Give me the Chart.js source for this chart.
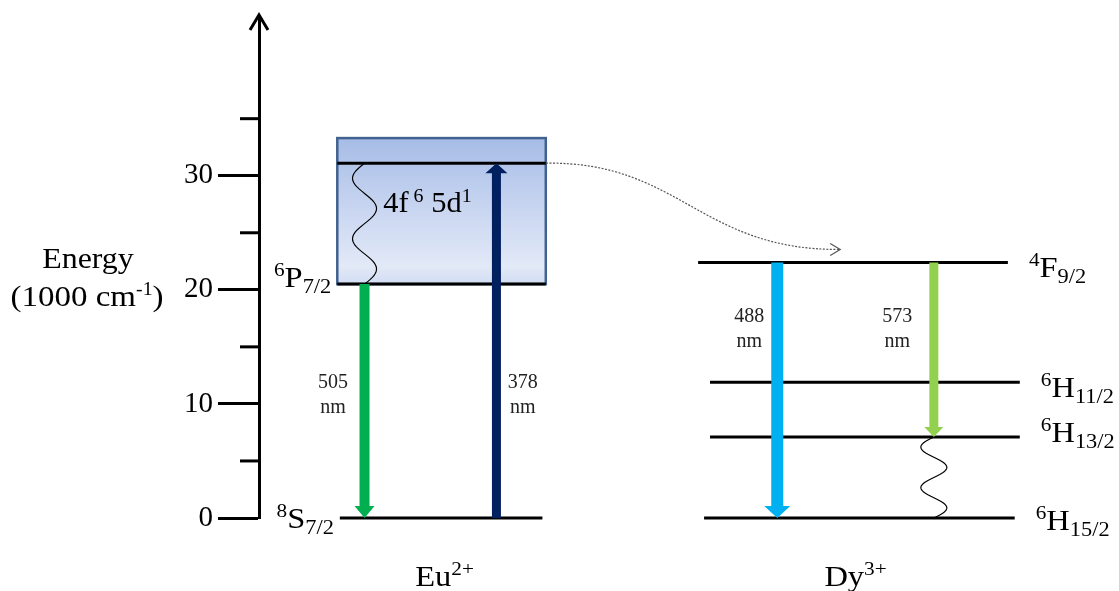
<!DOCTYPE html>
<html>
<head>
<meta charset="utf-8">
<script src="https://cdn.jsdelivr.net/npm/chart.js@4.4.0/dist/chart.umd.min.js"></script>
<style>
  html, body { margin: 0; padding: 0; background: #fff; }
</style>
</head>
<body>
<canvas id="chart" width="1119" height="591"></canvas>
<script>
// energies in 1000 cm-1
const yTicks = [0, 10, 20, 30];
const yMinorTicks = [5, 15, 25, 35];

const euLevelNames = [['8', 'S', '7/2'], ['6', 'P', '7/2']];
const euLevelEnergies = [0, 20.5];
const euBandTop = 33.3;     // top edge of the 4f6 5d1 box
const euBandLevel = 31.1;   // black line inside the box

const dyLevelNames = [['4', 'F', '9/2'], ['6', 'H', '11/2'], ['6', 'H', '13/2'], ['6', 'H', '15/2']];
const dyLevelEnergies = [22.4, 11.9, 7.1, 0];

const transitionNm = ['505', '378', '488', '573'];
const transitionFrom = [20.5, 0, 22.4, 22.4];
const transitionTo = [0, 31.1, 0, 7.1];
const transitionColors = ['#00b050', '#002060', '#00b0f0', '#92d050'];

// layout: x in diagram units 0..100, y offsets in px
const euSpans = [[9.5, 33.3], [9.2, 33.7]];
const euBoxSpan = [9.2, 33.7];
const dySpans = [[51.6, 88.0], [53.0, 89.4], [53.0, 89.4], [52.3, 88.8]];
const euLabelDrop = [10, 3];
const dyLabelDrop = [15, 15, 5, 12];
const transitionX = [12.4, 27.9, 60.9, 79.3];
const transitionShaft = [10, 9, 12, 9];
const transitionHead = [20, 22, 26, 19];
const transitionHeadLen = [12, 10, 12, 10];
const transitionLabelX = [8.7, 31.0, 57.6, 75.0];
const transitionLabelY = [11.4, 11.4, 17.2, 17.2];

const FONT = '"Liberation Serif", "Times New Roman", serif';
const SX = 1.12;

function drawRich(ctx, parts, x, y, align, sx) {
  sx = sx || 1;
  let w = 0;
  parts.forEach(p => { ctx.font = p[1] + 'px ' + FONT; w += ctx.measureText(p[0]).width; });
  let x0 = align === 'right' ? x - w * sx : align === 'center' ? x - w * sx / 2 : x;
  ctx.save();
  ctx.translate(x0, y);
  ctx.scale(sx, 1);
  ctx.textAlign = 'left';
  ctx.textBaseline = 'alphabetic';
  ctx.fillStyle = '#000';
  let cx = 0;
  parts.forEach(p => {
    ctx.font = p[1] + 'px ' + FONT;
    ctx.fillText(p[0], cx, -p[2]);
    cx += ctx.measureText(p[0]).width;
  });
  ctx.restore();
}

function levelParts(n) {
  return [[n[0], 19, 11], [n[1], 29, 0], [n[2], 20, -6]];
}

function drawArrow(ctx, x, y0, y1, shaft, head, headLen, color) {
  const dir = Math.sign(y1 - y0);
  const yb = y1 - dir * headLen;
  ctx.fillStyle = color;
  ctx.beginPath();
  ctx.moveTo(x - shaft / 2, y0);
  ctx.lineTo(x - shaft / 2, yb);
  ctx.lineTo(x - head / 2, yb);
  ctx.lineTo(x, y1);
  ctx.lineTo(x + head / 2, yb);
  ctx.lineTo(x + shaft / 2, yb);
  ctx.lineTo(x + shaft / 2, y0);
  ctx.closePath();
  ctx.fill();
}

function drawWavy(ctx, x, yTop, yBot, amp) {
  ctx.strokeStyle = '#000';
  ctx.lineWidth = 1.2;
  ctx.beginPath();
  for (let i = 0; i <= 80; i++) {
    const t = i / 80;
    const px = x - amp * Math.sin(Math.PI * 4 * t);
    const py = yTop + (yBot - yTop) * t;
    if (i === 0) ctx.moveTo(px, py); else ctx.lineTo(px, py);
  }
  ctx.stroke();
}

const datasets = [];
euLevelEnergies.forEach((e, i) => {
  datasets.push({ data: [{ x: euSpans[i][0], y: e }, { x: euSpans[i][1], y: e }] });
});
datasets.push({ data: [{ x: euBoxSpan[0], y: euBandLevel }, { x: euBoxSpan[1], y: euBandLevel }] });
dyLevelEnergies.forEach((e, i) => {
  datasets.push({ data: [{ x: dySpans[i][0], y: e }, { x: dySpans[i][1], y: e }] });
});
datasets.forEach(d => {
  d.type = 'line';
  d.borderColor = '#000';
  d.borderWidth = 3;
  d.pointRadius = 0;
  d.clip = false;
  d.borderCapStyle = 'butt';
});

const diagram = {
  id: 'diagram',
  beforeDatasetsDraw(chart) {
    const ctx = chart.ctx, xs = chart.scales.x, ys = chart.scales.y;
    const l = xs.getPixelForValue(euBoxSpan[0]), r = xs.getPixelForValue(euBoxSpan[1]);
    const t = ys.getPixelForValue(euBandTop), b = ys.getPixelForValue(euLevelEnergies[1]);
    const g = ctx.createLinearGradient(0, t, 0, b);
    g.addColorStop(0, '#a6bce6');
    g.addColorStop(0.55, '#cdd9f2');
    g.addColorStop(0.88, '#e2e9f7');
    g.addColorStop(1, '#d2ddf3');
    ctx.save();
    ctx.fillStyle = g;
    ctx.fillRect(l, t, r - l, b - t);
    ctx.strokeStyle = '#41618f';
    ctx.lineWidth = 2.5;
    ctx.strokeRect(l, t, r - l, b - t);
    ctx.restore();
  },
  afterDatasetsDraw(chart) {
    const ctx = chart.ctx, xs = chart.scales.x, ys = chart.scales.y;
    const area = chart.chartArea;
    ctx.save();
    // axis arrow head and minor ticks
    ctx.strokeStyle = '#000';
    ctx.lineWidth = 3;
    ctx.beginPath();
    ctx.moveTo(area.left - 9, area.top + 14);
    ctx.lineTo(area.left, area.top - 1);
    ctx.lineTo(area.left + 9, area.top + 14);
    ctx.stroke();
    yMinorTicks.forEach(v => {
      const y = ys.getPixelForValue(v);
      ctx.beginPath();
      ctx.moveTo(area.left - 19, y);
      ctx.lineTo(area.left, y);
      ctx.stroke();
    });

    // wavy non-radiative relaxations
    drawWavy(ctx, xs.getPixelForValue(transitionX[0]), ys.getPixelForValue(euBandLevel), ys.getPixelForValue(euLevelEnergies[1]), 12);
    drawWavy(ctx, xs.getPixelForValue(transitionX[3]), ys.getPixelForValue(dyLevelEnergies[2]), ys.getPixelForValue(dyLevelEnergies[3]), 13);

    // transitions
    transitionNm.forEach((nm, i) => {
      const x = xs.getPixelForValue(transitionX[i]);
      drawArrow(ctx, x, ys.getPixelForValue(transitionFrom[i]), ys.getPixelForValue(transitionTo[i]),
        transitionShaft[i], transitionHead[i], transitionHeadLen[i], transitionColors[i]);
      const lx = xs.getPixelForValue(transitionLabelX[i]);
      const ly = ys.getPixelForValue(transitionLabelY[i]);
      ctx.fillStyle = '#222';
      ctx.font = '20px ' + FONT;
      ctx.textAlign = 'center';
      ctx.textBaseline = 'alphabetic';
      ctx.fillText(nm, lx, ly);
      ctx.fillText('nm', lx, ly + 25);
    });

    // energy transfer Eu -> Dy
    const sx0 = xs.getPixelForValue(euBoxSpan[1]), sy0 = ys.getPixelForValue(euBandLevel);
    const ex = xs.getPixelForValue(68.3), ey = ys.getPixelForValue(dyLevelEnergies[0]) - 13;
    ctx.strokeStyle = '#555';
    ctx.lineWidth = 1.2;
    ctx.setLineDash([2, 1.5]);
    ctx.beginPath();
    ctx.moveTo(sx0, sy0);
    ctx.bezierCurveTo(sx0 + 134, sy0 - 2, sx0 + 154, ey + 1, ex, ey);
    ctx.stroke();
    ctx.setLineDash([]);
    ctx.beginPath();
    ctx.moveTo(ex - 10, ey - 6);
    ctx.lineTo(ex, ey);
    ctx.lineTo(ex - 10, ey + 6);
    ctx.stroke();

    // level labels
    euLevelNames.forEach((n, i) => {
      drawRich(ctx, levelParts(n), xs.getPixelForValue(euSpans[i][0]) - 6,
        ys.getPixelForValue(euLevelEnergies[i]) + euLabelDrop[i], 'right', SX);
    });
    dyLevelNames.forEach((n, i) => {
      drawRich(ctx, levelParts(n), xs.getPixelForValue(dySpans[i][1]) + 21,
        ys.getPixelForValue(dyLevelEnergies[i]) + dyLabelDrop[i], 'left', SX);
    });

    // band label
    drawRich(ctx, [['4f', 29, 0], [' 6', 19, 10], [' 5d', 29, 0], ['1', 19, 10]],
      xs.getPixelForValue(14.6), ys.getPixelForValue(26.8), 'left', 1.05);

    // ion labels
    const ionY = area.bottom + 68;
    drawRich(ctx, [['Eu', 29, 0], ['2+', 19, 11]], xs.getPixelForValue(21.8), ionY, 'center', SX);
    drawRich(ctx, [['Dy', 29, 0], ['3+', 19, 11]], xs.getPixelForValue(70.1), ionY, 'center', SX);

    // axis title
    drawRich(ctx, [['Energy', 29, 0]], area.left - 171, ys.getPixelForValue(21.9), 'center', 1.1);
    drawRich(ctx, [['(1000 cm', 30, 0], ['-1', 18, 11], [')', 30, 0]], area.left - 172, ys.getPixelForValue(18.6), 'center', 1.1);
    ctx.restore();
  }
};

new Chart(document.getElementById('chart'), {
  type: 'line',
  data: { datasets: datasets },
  options: {
    responsive: false,
    animation: false,
    devicePixelRatio: 1,
    layout: { padding: { top: 16, bottom: 73, left: 0, right: 9 } },
    plugins: { legend: { display: false }, tooltip: { enabled: false } },
    scales: {
      x: { type: 'linear', min: 0, max: 100, display: false },
      y: {
        type: 'linear',
        min: 0,
        max: 44,
        afterBuildTicks: s => { s.ticks = yTicks.map(v => ({ value: v })); },
        afterFit: s => { s.width = 259; s.paddingTop = 0; s.paddingBottom = 0; },
        border: { display: true, color: '#000', width: 3 },
        grid: { drawOnChartArea: false, tickLength: 41, tickWidth: 3, tickColor: '#000' },
        ticks: { color: '#000', padding: 5, font: { family: FONT, size: 29 } }
      }
    }
  },
  plugins: [diagram]
});
</script>
</body>
</html>
